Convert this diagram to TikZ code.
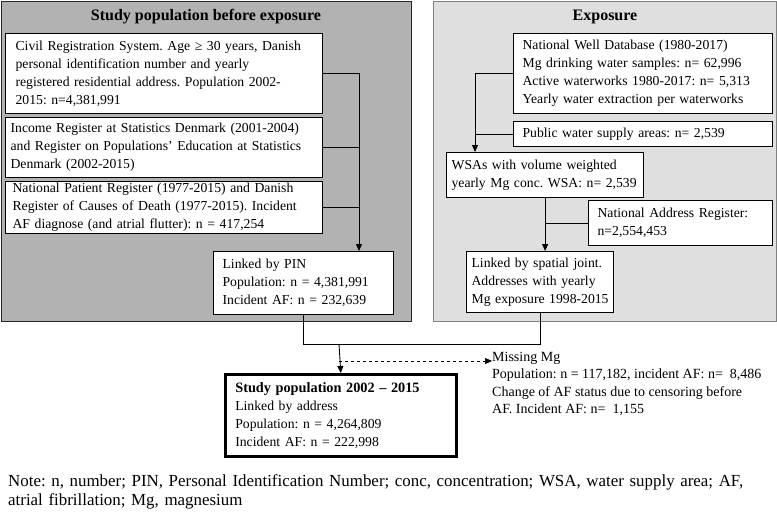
\documentclass[tikz,border=0pt]{standalone}
\usepackage{fontspec}
\setmainfont{Liberation Serif}
\usepackage{xcolor}
\usetikzlibrary{arrows.meta, positioning}
\frenchspacing

\begin{document}
\begin{tikzpicture}[x=1pt, y=-1pt,
    box/.style={rectangle, draw, fill=white, line width=1.2pt, anchor=north west,
                align=left, inner ysep=0pt, font=\fontsize{13.7}{18}\selectfont},
    panel/.style={line width=1pt},
    arr/.style={-{Triangle[length=7pt, width=6pt]}, line width=0.9pt},
    link/.style={line width=0.9pt},
    head/.style={font=\fontsize{16}{18}\selectfont\bfseries},
    plain/.style={anchor=north west, align=left, inner sep=0pt, font=\fontsize{14}{17.5}\selectfont}
]
\useasboundingbox (0,0) rectangle (777,514);

\draw[panel, fill=gray!60, draw=black!85] (1,1) rectangle (411,321);
\draw[panel, fill=gray!25, draw=black!50] (433,1) rectangle (776,321);
\node[head] (ttlpop) at (206,17) {Study population before exposure};
\node[head] (ttlexp) at (605,17) {Exposure};

\node[box, inner xsep=10pt, text width=297pt, minimum height=80pt] (civ) at (5,33)
    {Civil Registration System. Age ≥ 30 years, Danish\\personal identification number and yearly\\registered residential address. Population 2002-\\2015: n=4,381,991};
\node[box, inner xsep=5pt, text width=307pt, minimum height=60pt] (inc) at (5,117)
    {Income Register at Statistics Denmark (2001-2004)\\and Register on Populations’ Education at Statistics\\Denmark (2002-2015)};
\node[box, inner xsep=7pt, text width=303pt, minimum height=52pt] (npr) at (5,181)
    {National Patient Register (1977-2015) and Danish\\Register of Causes of Death (1977-2015). Incident\\AF diagnose (and atrial flutter): n = 417,254};
\node[box, inner xsep=9pt, text width=162pt, minimum height=63pt] (pin) at (213,251)
    {Linked by PIN\\Population: n = 4,381,991\\Incident AF: n = 232,639};

\node[box, inner xsep=9pt, text width=241pt, minimum height=80pt] (nwd) at (513,33)
    {National Well Database (1980-2017)\\Mg drinking water samples: n= 62,996\\Active waterworks 1980-2017: n= 5,313\\Yearly water extraction per waterworks};
\node[box, inner xsep=9pt, text width=241pt, minimum height=25pt] (pub) at (513,121)
    {Public water supply areas: n= 2,539};
\node[box, inner xsep=5pt, text width=187pt, minimum height=45pt] (wsa) at (446,152)
    {\mbox{WSAs with volume weighted}\\\mbox{yearly Mg conc. WSA: n= 2,539}};
\node[box, inner xsep=9pt, text width=166pt, minimum height=45pt] (addr) at (588,200)
    {National Address Register:\\n=2,554,453};
\node[box, inner xsep=5pt, text width=137pt, minimum height=61pt] (spat) at (466,251)
    {Linked by spatial joint.\\Addresses with yearly\\Mg exposure 1998-2015};

\node[box, line width=2.6pt, inner xsep=10pt, text width=211pt, minimum height=82pt] (study) at (224,373)
    {{\fontsize{14.3}{18}\selectfont\textbf{Study population 2002 – 2015}}\\Linked by address\\Population: n = 4,264,809\\Incident AF: n = 222,998};
\node[plain] (miss) at (492,352)
    {Missing Mg\\Population: n = 117,182, incident AF: n= \ 8,486\\Change of AF status due to censoring before\\AF. Incident AF: n= \ 1,155};
\node[plain, text width=770pt, font=\fontsize{16.9}{19.5}\selectfont] (note) at (8,474)
    {Note: n, number; PIN, Personal Identification Number; conc, concentration; WSA, water supply area; AF,\\atrial fibrillation; Mg, magnesium};

\coordinate (pinin) at (359,251);
\coordinate (wsain) at (475,152);
\coordinate (join) at (339,344);
\coordinate (dsh) at (339,361);

\draw[arr] (civ.east) -| (pinin);
\draw[link] (inc.east) -- (inc.east -| pinin);
\draw[link] (npr.east) -- (npr.east -| pinin);
\draw[arr] (nwd.west) -| (wsain);
\draw[link] (pub.west) -- (pub.west -| wsain);
\draw[arr] (wsa.south) -- (wsa.south |- spat.north);
\draw[link] (addr.west) -- (addr.west -| wsa.south);
\draw[link] (spat.south) |- (join);
\draw[link] (pin.south) |- (join);
\draw[arr] (join) -- (study.north);
\draw[arr, dashed, line width=0.6pt] (dsh) -- (dsh -| miss.west);
\end{tikzpicture}
\end{document}
